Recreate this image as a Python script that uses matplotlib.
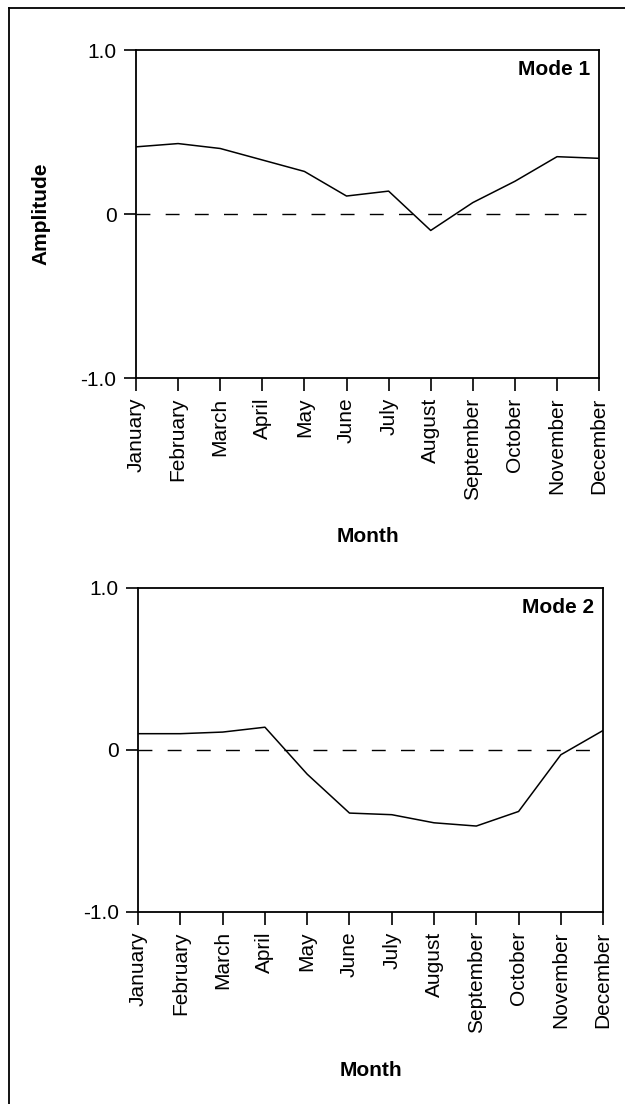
import matplotlib.pyplot as plt
import numpy as np

plt.rcParams['font.family'] = ['Liberation Sans', 'DejaVu Sans']

MONTHS = ['January', 'February', 'March', 'April', 'May', 'June', 'July',
          'August', 'September', 'October', 'November', 'December']
MODE1 = [0.41, 0.43, 0.40, 0.33, 0.26, 0.11, 0.14, -0.10, 0.07, 0.20, 0.35, 0.34]
MODE2 = [0.10, 0.10, 0.11, 0.14, -0.15, -0.39, -0.40, -0.45, -0.47, -0.38, -0.03, 0.12]

fig = plt.figure(figsize=(6.25, 11.04), dpi=100)

# frame lines of the scanned page (left and top only)
fig.add_artist(plt.Line2D([0.014, 0.014], [0.0, 0.993], transform=fig.transFigure,
                          lw=1.3, color='black'))
fig.add_artist(plt.Line2D([0.014, 1.0], [0.993, 0.993], transform=fig.transFigure,
                          lw=1.3, color='black'))

ax1 = fig.add_axes([0.2176, 0.6576, 0.741, 0.297])
ax2 = fig.add_axes([0.221, 0.174, 0.744, 0.2935])


def panel(ax, vals, name, ylabel):
    x = np.arange(len(MONTHS))
    ax.plot(x, vals, color='black', lw=1.1)
    ax.plot([x[0], x[-1] - 0.3], [0, 0], color='black', lw=1.0, dashes=(10, 11))
    ax.set_xlim(0, len(MONTHS) - 1)
    ax.set_ylim(-1, 1)
    ax.set_yticks([-1, 0, 1])
    ax.set_yticklabels(['-1.0', '0', '1.0'])
    ax.set_xticks(x)
    ax.set_xticklabels(MONTHS, rotation=90)
    ax.tick_params(direction='out', length=9, width=1.2, labelsize=15, pad=5)
    for s in ax.spines.values():
        s.set_linewidth(1.3)
    ax.set_xlabel('Month', fontsize=15, fontweight='bold', labelpad=20)
    if ylabel:
        ax.set_ylabel(ylabel, fontsize=15, fontweight='bold', labelpad=22)
    ax.text(0.98, 0.97, name, transform=ax.transAxes, ha='right', va='top',
            fontsize=15, fontweight='bold')


panel(ax1, MODE1, 'Mode 1', 'Amplitude')
panel(ax2, MODE2, 'Mode 2', None)

fig.savefig('out.png', dpi=100)
